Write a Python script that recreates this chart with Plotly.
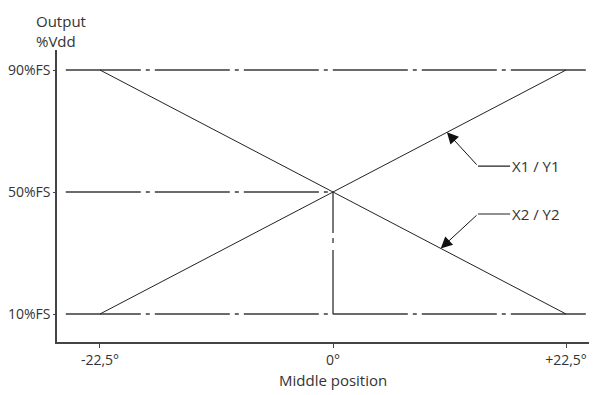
import plotly.graph_objects as go

# angle (deg) vs output (%FS)
angle_ticks = [-22.5, 0, 22.5]
angle_labels = ['-22,5°', '0°', '+22,5°']
level_ticks = [10, 50, 90]
level_labels = ['10%FS', '50%FS', '90%FS']

x1y1_x = [-22.5, 22.5]
x1y1_y = [10, 90]
x2y2_x = [-22.5, 22.5]
x2y2_y = [90, 10]

# dash-dot reference lines
ref_90_x = [-25.8, 25.5]
ref_90_y = [90, 90]
ref_50_x = [-25.8, 0]
ref_50_y = [50, 50]
ref_10_x = [-25.8, 25.5]
ref_10_y = [10, 10]
ref_mid_x = [0, 0]
ref_mid_y = [50, 10]

# leader callouts: tip on line, elbow, end of horizontal, label
callouts = [
    dict(tip=(11.0, 69.6), elbow=(14.0, 58.5), end=(17.1, 58.5), text='X1 / Y1'),
    dict(tip=(10.4, 31.5), elbow=(14.0, 42.8), end=(17.1, 42.8), text='X2 / Y2'),
]

FONT = 'Open Sans, Noto Sans, sans-serif'
TXT = '#333333'
FS = 15
DASHDOT = '75px,5px,4px,5px'

fig = go.Figure()

for xs, ys in [(ref_90_x, ref_90_y), (ref_50_x, ref_50_y), (ref_10_x, ref_10_y)]:
    fig.add_trace(go.Scatter(x=xs, y=ys, mode='lines',
                             line=dict(color='#3a3a3a', width=1.3, dash=DASHDOT),
                             hoverinfo='skip'))
# vertical from the crossing down: one dash-dot break near the top
fig.add_trace(go.Scatter(x=ref_mid_x, y=ref_mid_y, mode='lines',
                         line=dict(color='#222222', width=1.2, dash='41px,5px,5px,7px,300px'),
                         hoverinfo='skip'))

for xs, ys in [(x1y1_x, x1y1_y), (x2y2_x, x2y2_y)]:
    fig.add_trace(go.Scatter(x=xs, y=ys, mode='lines',
                             line=dict(color='#222222', width=1),
                             hoverinfo='skip'))

for c in callouts:
    fig.add_trace(go.Scatter(x=[c['elbow'][0], c['end'][0]], y=[c['elbow'][1], c['end'][1]],
                             mode='lines', line=dict(color='#222222', width=1.1),
                             hoverinfo='skip'))
    fig.add_annotation(x=c['tip'][0], y=c['tip'][1], ax=c['elbow'][0], ay=c['elbow'][1],
                       axref='x', ayref='y', xref='x', yref='y', text='',
                       showarrow=True, arrowhead=2, arrowsize=2.3, arrowwidth=1,
                       arrowcolor='#111111', standoff=0)
    fig.add_annotation(x=c['end'][0], y=c['end'][1], text=c['text'], showarrow=False,
                       xanchor='left', xshift=0, font=dict(family=FONT, size=FS, color=TXT))

fig.add_annotation(x=0, y=1, xref='paper', yref='paper', text='Output<br>%Vdd',
                   showarrow=False, xanchor='left', yanchor='middle', align='left',
                   xshift=-23, yshift=19.5, font=dict(family=FONT, size=FS, color=TXT))
fig.add_annotation(x=0, y=0, xref='x', yref='paper', text='Middle position',
                   showarrow=False, xanchor='center', yanchor='top',
                   yshift=-26, font=dict(family=FONT, size=FS, color=TXT))

# page body has an 8px margin, so the figure is 8px smaller than the window
fig.update_layout(
    width=589, height=387,
    margin=dict(l=49, r=0, t=42, b=53),
    paper_bgcolor='white', plot_bgcolor='white',
    showlegend=False,
    font=dict(family=FONT, size=FS, color=TXT),
    xaxis=dict(range=[-26.65, 25.49], tickvals=angle_ticks, ticktext=angle_labels,
               showgrid=False, zeroline=False, showline=True, linecolor='#444444',
               linewidth=1.5, ticks='outside', ticklen=4, tickcolor='#444444',
               tickfont=dict(size=14), automargin=False),
    yaxis=dict(range=[0.82, 96.56], tickvals=level_ticks, ticktext=level_labels,
               showgrid=False, zeroline=False, showline=True, linecolor='#444444',
               linewidth=1.5, ticks='outside', ticklen=2, tickcolor='#444444',
               tickfont=dict(size=14), automargin=False),
)

fig.write_html("out.html")
